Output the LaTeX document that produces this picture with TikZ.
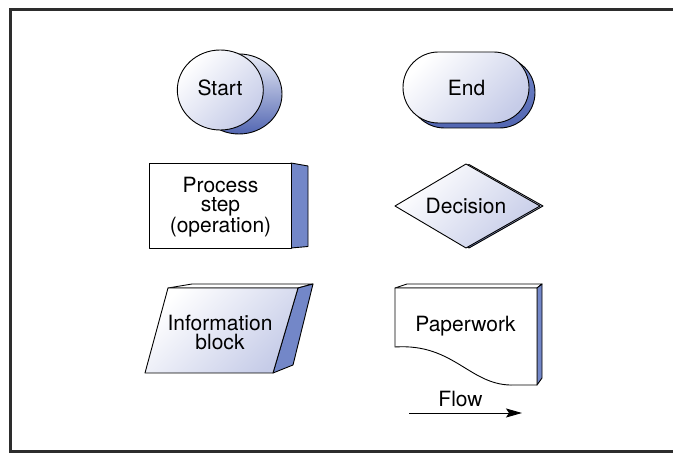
\documentclass[tikz,border=0pt]{standalone}
\usepackage{fontspec}
\setmainfont{TeX Gyre Heros}
\usetikzlibrary{arrows.meta}
\definecolor{lav}{RGB}{198,204,232}
\definecolor{sideblue}{RGB}{115,135,200}
\definecolor{deepblue}{RGB}{82,102,178}
\definecolor{paleblue}{RGB}{232,235,246}
\definecolor{framegray}{RGB}{45,45,45}
\begin{document}
\begin{tikzpicture}[x=1pt,y=-1pt,
  outline/.style={draw=black,line width=0.9pt,line join=round},
  frontshade/.style={outline,top color=white,bottom color=lav,shading angle=45},
  backshade/.style={outline,top color=paleblue,bottom color=deepblue},
  sideface/.style={outline,fill=sideblue},
  plain/.style={outline,fill=white},
  lbl/.style={font=\fontsize{21}{19}\selectfont,align=center,inner sep=0pt},
  flowarrow/.style={line width=0.9pt,-{Stealth[length=16pt,width=9pt,inset=3pt]}}
]
\useasboundingbox (0,0) rectangle (673,454);
\clip (0,0) rectangle (673,454);
\fill[white] (0,0) rectangle (673,454);
\draw[framegray,line width=3pt] (690,9.5) -- (10.5,9.5) -- (10.5,452) -- (690,452);

% Start
\draw[backshade] (239,94) ellipse [x radius=43pt,y radius=40pt];
\draw[frontshade] (220.3,90) ellipse [x radius=43pt,y radius=40pt];
\node[lbl,anchor=base] (start) at (220,95.5) {Start};

% End
\draw[outline,top color=sideblue,bottom color=deepblue,rounded corners=35.5pt] (409,57) rectangle (535,128);
\draw[frontshade,rounded corners=35.5pt] (403,52) rectangle (529,123);
\node[lbl,anchor=base] (end) at (466.5,95.5) {End};

% Process
\draw[sideface] (291,163) -- (308,166) -- (308,246.5) -- (291,248) -- cycle;
\draw[plain] (149,163) rectangle (291,248);
\node[lbl] (process) at (220.5,207.5) {Process\\step\\(operation)};

% Decision
\draw[outline,top color=white,bottom color=sideblue] (398,206) -- (469,164.5) -- (543,206) -- (469,248) -- cycle;
\draw[frontshade] (395,206) -- (466,164) -- (540,206) -- (466,248) -- cycle;
\node[lbl,anchor=base] (decision) at (466,214) {Decision};

% Information block
\draw[plain] (168,288) -- (192,284) -- (313,284) -- (298,288) -- cycle;
\draw[sideface] (298,288) -- (313,284) -- (293,365) -- (273,373) -- cycle;
\draw[frontshade] (168,288) -- (298,288) -- (273,373) -- (145,373) -- cycle;
\node[lbl] (info) at (220,332) {Information\\block};

% Paperwork
\draw[plain] (395,288) -- (407,284) -- (542,284) -- (537,288) -- cycle;
\draw[sideface] (537,288) -- (542,284) -- (542,378) -- (537,385) -- cycle;
\draw[plain] (395,288) -- (537,288) -- (537,385) -- (515,385) .. controls (470,387) and (455,343) .. (395,347) -- cycle;
\node[lbl,anchor=base] (paper) at (465.5,332) {Paperwork};

% Flow
\coordinate (flowA) at (409,413);
\coordinate (flowB) at (522,413);
\draw[flowarrow] (flowA) -- (flowB);
\node[lbl,anchor=base] (flow) at (460.5,406.5) {Flow};
\end{tikzpicture}
\end{document}
